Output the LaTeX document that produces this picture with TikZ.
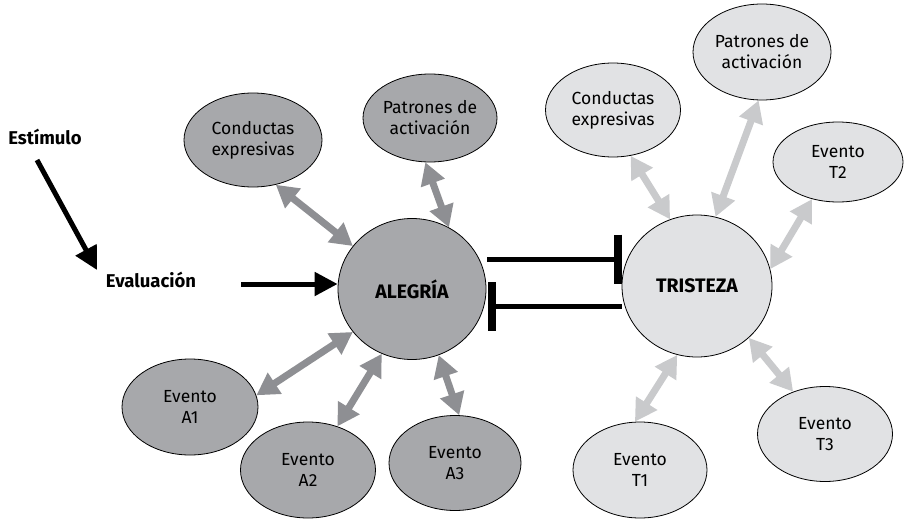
\documentclass[tikz,border=0pt]{standalone}
\usepackage{fontspec}
\setmainfont{Fira Sans}
\usetikzlibrary{arrows.meta,shapes.geometric,calc}
\definecolor{joyfill}{HTML}{A7A8AB}
\definecolor{joyarrow}{HTML}{8E8F93}
\definecolor{sadfill}{HTML}{E1E2E4}
\definecolor{sadarrow}{HTML}{C9CACC}
\begin{document}
\begin{tikzpicture}[x=1pt,y=-1pt,
  txt/.style={font=\fontsize{17.5}{21}\selectfont, align=center},
  bubble/.style={ellipse, draw=black, line width=0.8pt, inner sep=0pt, txt},
  joy/.style={bubble, fill=joyfill},
  sad/.style={bubble, fill=sadfill},
  headword/.style={font=\bfseries\fontsize{18.5}{20}\selectfont, inner sep=0pt},
  emotion/.style={ellipse, draw=black, line width=0.8pt, inner sep=0pt, font=\bfseries\fontsize{19.5}{20}\selectfont},
  biarrow/.style={line width=7pt, {Triangle[length=22pt,width=24pt]}-{Triangle[length=22pt,width=24pt]}},
  joylink/.style={biarrow, draw=joyarrow},
  sadlink/.style={biarrow, draw=sadarrow},
  fwdarrow/.style={line width=5pt, -{Triangle[length=23pt,width=23pt]}},
  inhibit/.style={line width=5pt, -{Bar[width=49pt,line width=8pt]}}
]
\useasboundingbox (0,0) rectangle (904,519);

% outer labels
\node[headword] (estimulo) at (45,137) {Estímulo};
\node[headword] (evaluacion) at (151,280) {Evaluación};

% central emotions
\node[emotion, fill=joyfill, minimum width=148pt, minimum height=141pt] (alegria) at (412,289) {ALEGRÍA};
\node[emotion, fill=sadfill, minimum width=150pt, minimum height=142pt] (tristeza) at (697,286) {TRISTEZA};

% satellites of ALEGRÍA
\node[joy, minimum width=138pt, minimum height=94pt] (condA) at (253,140) {Conductas\\expresivas};
\node[joy, minimum width=134pt, minimum height=88pt] (patA) at (430,118) {Patrones de\\activación};
\node[joy, minimum width=136pt, minimum height=96pt] (evA1) at (190,407) {Evento\\A1};
\node[joy, minimum width=135pt, minimum height=96pt] (evA2) at (308,470) {Evento\\A2};
\node[joy, minimum width=132pt, minimum height=95pt] (evA3) at (455,463) {Evento\\A3};

% satellites of TRISTEZA
\node[sad, minimum width=135pt, minimum height=94pt] (condT) at (613,110) {Conductas\\expresivas};
\node[sad, minimum width=138pt, minimum height=96pt] (patT) at (762,52) {Patrones de\\activación};
\node[sad, minimum width=130pt, minimum height=80pt] (evT2) at (838,162) {Evento\\T2};
\node[sad, minimum width=134pt, minimum height=96pt] (evT1) at (640,470) {Evento\\T1};
\node[sad, minimum width=135pt, minimum height=95pt] (evT3) at (825,434) {Evento\\T3};

% appraisal chain
\draw[fwdarrow] ($(estimulo.center)+(-8,23)$) -- ($(evaluacion.center)+(-54,-10)$);
\coordinate (evalstart) at ($(evaluacion.center)+(90,4)$);
\draw[fwdarrow] (evalstart) -- (evalstart -| alegria.west);

% mutual inhibition
\draw[inhibit] ($(alegria.east)+(1,-30)$) -- ($(tristeza.west)+(0,-27)$);
\draw[inhibit] ($(tristeza.west)+(0,20)$) -- ($(alegria.east)+(2,17)$);

% ALEGRÍA links
\draw[joylink] (condA.-63) -- (alegria.144);
\draw[joylink] (patA.-96) -- (alegria.59);
\draw[joylink] (evA1.10) -- (alegria.-144);
\draw[joylink] (evA2.56) -- (alegria.-115);
\draw[joylink] (evA3.85) -- (alegria.-68);

% TRISTEZA links
\draw[sadlink] (condT.-69) -- (tristeza.112);
\draw[sadlink] (patT.-94) -- (tristeza.75);
\draw[sadlink] (evT2.-125) -- (tristeza.13);
\draw[sadlink] (evT1.96) -- (tristeza.-106);
\draw[sadlink] (evT3.127) -- (tristeza.-45);
\end{tikzpicture}
\end{document}
